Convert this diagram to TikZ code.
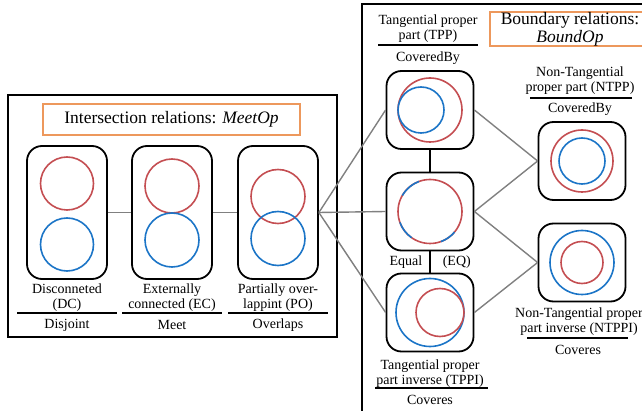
\documentclass[tikz,border=0pt]{standalone}
\usepackage{fontspec}
\setmainfont{Liberation Serif}
\usetikzlibrary{calc}

\definecolor{ringred}{RGB}{196,78,82}
\definecolor{ringblue}{RGB}{28,117,199}
\definecolor{titleorange}{RGB}{237,152,92}
\definecolor{linkgray}{RGB}{128,128,128}

\tikzset{
  relbox/.style={draw, line width=1.8pt, rounded corners=15pt, minimum width=80pt, minimum height=133pt},
  ringbox/.style={draw, line width=1.8pt, rounded corners=15pt, minimum width=87pt, minimum height=78pt},
  redring/.style={draw=ringred, line width=1.6pt},
  bluering/.style={draw=ringblue, line width=1.6pt},
  link/.style={draw=linkgray, line width=1.4pt},
  rel/.style={line width=1.6pt},
  rule/.style={line width=1.4pt},
  lbl/.style={align=center, inner sep=0pt, font=\fontsize{14}{15}\selectfont},
  titlebox/.style={draw=titleorange, line width=1.4pt, align=center, font=\fontsize{17.5}{18}\selectfont}
}

\begin{document}
\begin{tikzpicture}[x=1pt, y=-1pt]
  \useasboundingbox (0,0) rectangle (642,411);
  \clip (0,0) rectangle (642,411);

  % Frames
  \draw[line width=1.8pt] (8,95) rectangle (337,337);
  \draw[line width=1.8pt] (362,4) rectangle (660,430);

  % Titles
  \node[titlebox, minimum width=257pt, minimum height=31pt] (meettitle) at (171.5,119.5) {Intersection relations: \textit{MeetOp}};
  \node[titlebox, minimum width=160pt, minimum height=32pt, inner sep=0pt] (boundtitle) at (570,29) {Boundary relations:\\\textit{BoundOp}};

  % Intersection relations
  \foreach \n/\x in {dc/67,ec/172,po/278} {
    \node[relbox] (\n) at (\x,212.5) {};
  }
  \draw[redring] ($(dc)+(0,-29)$) circle (26.5pt);
  \draw[bluering] ($(dc)+(0,32)$) circle (26.5pt);
  \draw[redring] ($(ec)+(0,-26.5)$) circle (27pt);
  \draw[bluering] ($(ec)+(0,27.5)$) circle (27pt);
  \draw[redring] ($(po)+(0,-16)$) circle (27pt);
  \draw[bluering] ($(po)+(0,26)$) circle (27pt);

  \foreach \n/\x/\a/\b/\op in {dc/67/Disconneted/(DC)/Disjoint, ec/172/Externally/connected (EC)/Meet, po/278/Partially over-/lappint (PO)/Overlaps} {
    \node[lbl] (\n-txt) at (\x,297.5) {\a\\\b};
    \draw[rule] (\x-50,313) -- (\x+50,313);
    \node[lbl] (\n-op) at (\x,325) {\op};
  }

  % Boundary relations
  \node[ringbox] (tpp) at (430,110) {};
  \node[ringbox] (eq) at (430,211.5) {};
  \node[ringbox] (tppi) at (430,312.5) {};
  \node[ringbox] (ntpp) at (582,161) {};
  \node[ringbox] (ntppi) at (582,262.5) {};

  \draw[redring] (tpp) circle (32pt);
  \draw[bluering] ($(tpp)+(-9,0)$) circle (23pt);
  \draw[redring] (eq) circle (32pt);
  \draw[bluering] (eq) ++(110:32pt) arc[start angle=110, end angle=150, radius=32pt];
  \draw[bluering] (eq) ++(200:32pt) arc[start angle=200, end angle=235, radius=32pt];
  \draw[bluering] (eq) ++(290:32pt) arc[start angle=290, end angle=320, radius=32pt];
  \draw[bluering] (tppi) circle (34pt);
  \draw[redring] ($(tppi)+(10,0)$) circle (24pt);
  \draw[redring] (ntpp) circle (31pt);
  \draw[bluering] (ntpp) circle (23pt);
  \draw[bluering] (ntppi) circle (32pt);
  \draw[redring] (ntppi) circle (21pt);

  \node[lbl] (tpp-txt) at (428,28.5) {Tangential proper\\part (TPP)};
  \draw[rule] (378,45) -- (478,45);
  \node[lbl] (tpp-op) at (428,58) {CoveredBy};

  \node[lbl] (ntpp-txt) at (580,81) {Non-Tangential\\proper part (NTPP)};
  \draw[rule] (530,98) -- (632,98);
  \node[lbl] (ntpp-op) at (580,109) {CoveredBy};

  \node[lbl] (ntppi-txt) at (579,322) {Non-Tangential proper\\part inverse (NTPPI)};
  \draw[rule] (527,338) -- (628,338);
  \node[lbl] (ntppi-op) at (578,350) {Coveres};

  \node[lbl] (tppi-txt) at (430,374) {Tangential proper\\part inverse (TPPI)};
  \draw[rule] (375,388) -- (488,388);
  \node[lbl] (tppi-op) at (430,400) {Coveres};

  % Links
  \draw[link] (dc) -- (ec);
  \draw[link] (ec) -- (po);
  \foreach \t in {tpp,eq,tppi} {
    \draw[link] (po.east) -- (\t.west);
  }
  \draw[link] (tpp.east) -- (ntpp.west);
  \draw[link] (eq.east) -- (ntpp.west);
  \draw[link] (eq.east) -- (ntppi.west);
  \draw[link] (tppi.east) -- (ntppi.west);
  \draw[rel] (tpp) -- (eq);
  \draw[rel] (eq) -- node[lbl, left=7pt] (eqleft) {Equal} node[lbl, right=12pt] (eqright) {(EQ)} (tppi);
\end{tikzpicture}
\end{document}
